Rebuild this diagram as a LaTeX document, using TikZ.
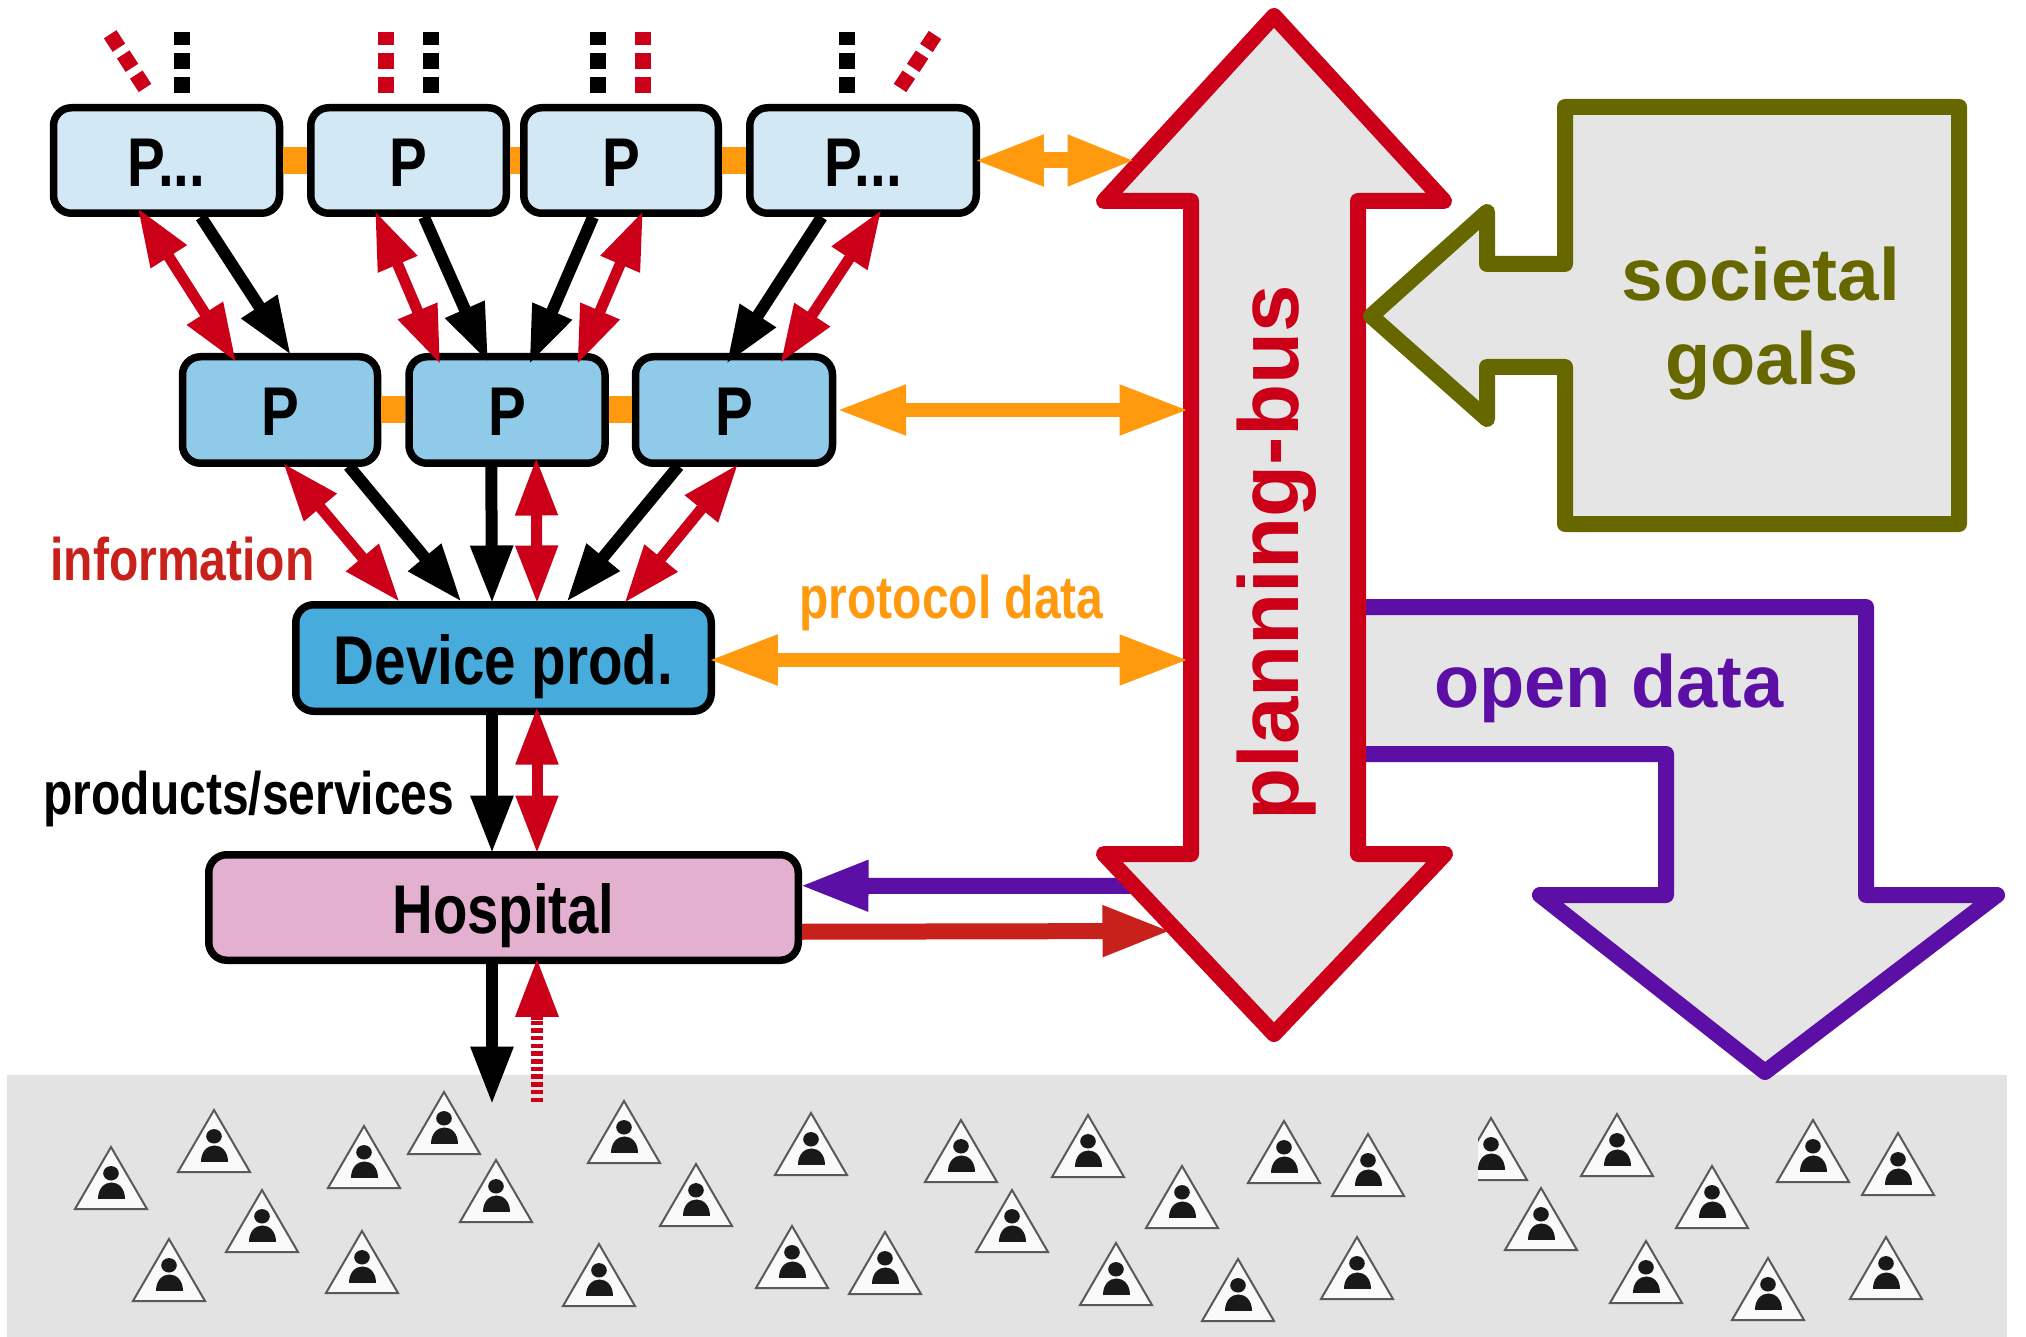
\documentclass[tikz,border=0pt]{standalone}
\usepackage{fontspec}
\usepackage{graphicx}
\setmainfont{Liberation Sans}
\usetikzlibrary{arrows.meta,calc}
\definecolor{busred}{HTML}{CB0018}
\definecolor{infored}{HTML}{C8201A}
\definecolor{olivec}{HTML}{676700}
\definecolor{purplec}{HTML}{5C0FA5}
\definecolor{orangec}{HTML}{FF9A0F}
\definecolor{fillgray}{HTML}{E5E5E5}
\definecolor{band}{HTML}{E3E3E3}
\definecolor{lightb}{HTML}{D2E9F5}
\definecolor{midb}{HTML}{8FCAE8}
\definecolor{deepb}{HTML}{47ABDC}
\definecolor{pinkc}{HTML}{E4B0D0}
\tikzset{
  procbox/.style={draw=black,line width=3.75pt,rounded corners=9pt,inner sep=0pt,outer sep=0pt,
    text height=26pt,text depth=0pt,font=\fontsize{34.5}{40}\selectfont\bfseries,align=center},
  blackarrow/.style={line width=6pt,black,shorten >=-1.25pt,-{Triangle[length=29pt,width=20pt]}},
  redarrow/.style={line width=5.5pt,busred,shorten >=-1.25pt,shorten <=-1.25pt,{Triangle[length=29pt,width=20pt]}-{Triangle[length=29pt,width=20pt]}},
  orangearrow/.style={line width=7pt,orangec,shorten >=-1.25pt,shorten <=-1.25pt,{Triangle[length=34.5pt,width=23.5pt]}-{Triangle[length=34.5pt,width=23.5pt]}},
  flatarrow/.style={line width=8pt,shorten >=-1.25pt,-{Triangle[length=34.5pt,width=23.5pt]}},
  orangelink/.style={line width=13.5pt,orangec,shorten >=1.875pt,shorten <=1.875pt},
  stub/.style={line width=8pt,dash pattern=on 8pt off 4pt},
  bigarrow/.style={line width=8pt,line join=round,fill=fillgray},
  midlabel/.style={inner sep=0pt,anchor=base west,font=\fontsize{30}{35}\selectfont\bfseries},
  biglabel/.style={inner sep=0pt,anchor=base,font=\fontsize{37}{44}\selectfont\bfseries},
}
\newcommand{\usermark}[2]{%
  \draw[draw=black!65,line width=1pt,fill=white!98!black,line join=miter] (#1,#2+1) -- (#1+36,#2+63) -- (#1-36,#2+63) -- cycle;
  \fill[black!90] (#1,#2+27.3) ellipse (3.9pt and 3.6pt);
  \fill[black!90] (#1-13.5,#2+52.5) .. controls (#1-13.5,#2+31) and (#1+13.5,#2+31) .. (#1+13.5,#2+52.5) -- cycle;
}
\begin{document}
\begin{tikzpicture}[x=0.5pt,y=-0.5pt]
\useasboundingbox (0,0) rectangle (2026,1337);
\fill[band] (7,1075) rectangle (2007,1337);
% users
\foreach \ux/\uy in {111/1146,214/1109,364/1125,444/1091,496/1159,262/1189,169/1238,362/1230,624/1100,599/1243,
  696/1163,811/1112,792/1225,885/1231,961/1119,1012/1189,1088/1114,1182/1165,1116/1242,1238/1258,1357/1236,1284/1120,1368/1133,
  1617/1113,1541/1187,1712/1165,1813/1119,1898/1132,1646/1240,1768/1257,1886/1236}{\usermark{\ux}{\uy}}
\begin{scope}
  \clip (1478,1100) rectangle (1540,1190);
  \usermark{1491}{1117}
\end{scope}
% boxes
\node[procbox,fill=lightb,minimum width=113pt,minimum height=52.75pt] (b1) at (166.5,160.5) {\scalebox{0.82}[1]{P...}};
\node[procbox,fill=lightb,minimum width=97.75pt,minimum height=52.75pt] (b2) at (408.5,160.5) {\scalebox{0.82}[1]{P}};
\node[procbox,fill=lightb,minimum width=97.25pt,minimum height=52.75pt] (b3) at (621,160.5) {\scalebox{0.82}[1]{P}};
\node[procbox,fill=lightb,minimum width=113.25pt,minimum height=52.75pt] (b4) at (863,160.5) {\scalebox{0.82}[1]{P...}};
\node[procbox,fill=midb,minimum width=97.5pt,minimum height=53.25pt] (c1) at (280,410) {\scalebox{0.82}[1]{P}};
\node[procbox,fill=midb,minimum width=98pt,minimum height=53.25pt] (c2) at (507,410) {\scalebox{0.82}[1]{P}};
\node[procbox,fill=midb,minimum width=98.5pt,minimum height=53.25pt] (c3) at (734,410) {\scalebox{0.82}[1]{P}};
\node[procbox,fill=deepb,minimum width=207.75pt,minimum height=53.25pt] (dev) at (503.5,658) {\scalebox{0.82}[1]{Device prod.}};
\node[procbox,fill=pinkc,minimum width=294.75pt,minimum height=52.75pt] (hos) at (503.5,907.5) {\scalebox{0.816}[1]{Hospital}};
% links between boxes
\draw[orangelink] (b1) -- (b2);
\draw[orangelink] (b2) -- (b3);
\draw[orangelink] (b3) -- (b4);
\draw[orangelink] (c1) -- (c2);
\draw[orangelink] (c2) -- (c3);
% open data
\draw[purplec,bigarrow] (1358,607) -- (1866,607) -- (1866,895) -- (1997,895) -- (1765,1072) -- (1540,895) -- (1666,895) -- (1666,754) -- (1358,754);
\node[biglabel,text=purplec] (opendata) at (1609,707) {open data};
% purple arrow under the bus
\coordinate (busP) at (1190,886);
\coordinate (busQ) at (1169,931);
\draw[flatarrow,purplec] (busP) -- ($(hos.north east)+(3.75,31)$);
% planning bus
\draw[busred,bigarrow] (1274,16) -- (1444,201) -- (1358,201) -- (1358,854) -- (1445,854) -- (1274,1034) -- (1104,854) -- (1191,854) -- (1191,201) -- (1104,201) -- cycle;
\node[inner sep=0pt,anchor=base,rotate=90,text=busred,font=\fontsize{42.5}{50}\selectfont\bfseries] (bus) at (1298,553) {\scalebox{1.004}[1]{planning-bus}};
% societal goals
\draw[olivec,bigarrow] (1565,107) -- (1959,107) -- (1959,524) -- (1565,524) -- (1565,367) -- (1487,367) -- (1487,419) -- (1371,316) -- (1487,212) -- (1487,264) -- (1565,264) -- cycle;
\node[biglabel,text=olivec] (soc) at (1761,301) {\scalebox{1.01}[1]{societal}};
\node[biglabel,text=olivec] (goals) at (1762,385) {goals};
% labels
\node[midlabel,text=infored] (info) at (50,580) {\scalebox{0.80}[1]{information}};
\node[midlabel,text=black] (prod) at (43,814) {\scalebox{0.80}[1]{products/services}};
\node[midlabel,text=orangec] (proto) at (799,618) {\scalebox{0.80}[1]{protocol data}};
% free ends
\coordinate (busU) at (1133,160.5);
\coordinate (busR) at (1186,410);
\coordinate (busD) at (1186,660);
\coordinate (crowdB) at (492,1102);
\coordinate (crowdR) at (537,1102);
\coordinate (stemR) at (537,1020);
% orange arrows
\draw[orangearrow,{Triangle[length=35pt,width=23.5pt]}-{Triangle[length=34pt,width=23.5pt]},line width=8pt] (b4.east) -- (busU);
\draw[orangearrow] ($(c3.east)+(7,0)$) -- (busR);
\draw[orangearrow] ($(dev.east)+(0,2)$) -- (busD);
\draw[flatarrow,infored] ($(hos.north east)+(3.75,77)$) -- (busQ);
% row 1 to row 2
\draw[redarrow] ($(b1.south west)+(85.5,-3.25)$) -- ($(c1.north west)+(52.25,3.25)$);
\draw[blackarrow] ($(b1.south west)+(147.5,3.75)$) -- ($(c1.north west)+(107,-3.75)$);
\draw[redarrow] ($(b2.south west)+(65.25,0)$) -- ($(c2.north west)+(30.25,5.25)$);
\draw[blackarrow] ($(b2.south west)+(113.25,3.75)$) -- ($(c2.north west)+(78.25,3.25)$);
\draw[blackarrow] ($(b3.south west)+(69.25,3.75)$) -- ($(c2.north west)+(121.25,5.25)$);
\draw[redarrow] ($(b3.south west)+(118.25,0)$) -- ($(c2.north west)+(169.25,5.25)$);
\draw[blackarrow] ($(b4.south west)+(72,3.75)$) -- ($(c3.north west)+(92.25,5.25)$);
\draw[redarrow] ($(b4.south west)+(130.25,-1.25)$) -- ($(c3.north west)+(146.25,4.25)$);
% row 2 to device
\draw[redarrow] ($(c1.south west)+(102.25,1.75)$) -- ($(dev.north west)+(102.25,-4.75)$);
\draw[blackarrow] ($(c1.south west)+(166.25,2.75)$) -- ($(dev.north west)+(164.25,-4.75)$);
\draw[blackarrow] ($(c2.south west)+(82.25,2.75)$) -- ($(dev.north west)+(196.25,-3.75)$);
\draw[redarrow] ($(c2.south west)+(127.25,-3.25)$) -- ($(dev.north west)+(241.25,-3.75)$);
\draw[blackarrow] ($(c3.south west)+(43,2.75)$) -- ($(dev.north west)+(272.25,-4.75)$);
\draw[redarrow] ($(c3.south west)+(101,2.75)$) -- ($(dev.north west)+(330.25,-3.75)$);
% device to hospital
\draw[blackarrow] ($(dev.south west)+(196.25,1.75)$) -- ($(hos.north west)+(283.25,-3.75)$);
\draw[redarrow] ($(dev.south west)+(241.25,-2.25)$) -- ($(hos.north west)+(328.25,-3.75)$);
% hospital to crowd
\draw[blackarrow] ($(hos.south west)+(283.25,2.75)$) -- (crowdB);
\draw[busred,line width=6pt,dash pattern=on 2.25pt off 1.6pt] (crowdR) -- (stemR);
\draw[busred,line width=6pt,shorten >=-1.25pt,-{Triangle[length=29.5pt,width=20pt]}] (stemR) -- ($(hos.south west)+(328.25,0)$);
% stubs on top
\draw[stub,black] (182,93) -- (182,32);
\draw[stub,busred] (386,93) -- (386,32);
\draw[stub,black] (431,93) -- (431,32);
\draw[stub,black] (598,93) -- (598,32);
\draw[stub,busred] (643,93) -- (643,32);
\draw[stub,black] (847,93) -- (847,32);
\draw[stub,busred,line width=7.5pt] (145,88) -- (110,34);
\draw[stub,busred,line width=7.5pt] (900,88) -- (935,35);
\end{tikzpicture}
\end{document}
